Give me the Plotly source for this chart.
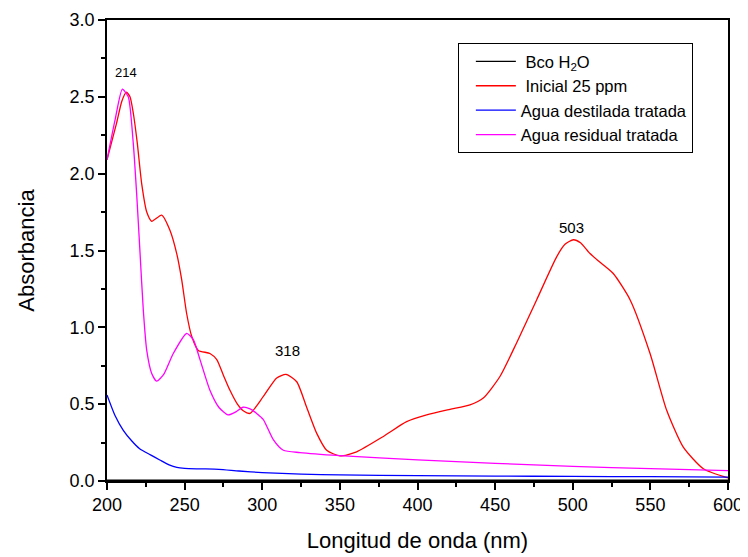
import plotly.graph_objects as go

# Bco H2O (baseline)
wl_blank = [200, 250, 300, 350, 400, 450, 500, 550, 600]
abs_blank = [0.005, 0.005, 0.005, 0.005, 0.005, 0.005, 0.005, 0.005, 0.005]

# Inicial 25 ppm
wl_ini = [200, 206.2, 209.5, 212.5, 214.8, 217, 219.5, 222.4, 225.6, 228.8, 235.2, 240.6,
          244.9, 248.1, 251.3, 254.6, 258.8, 266.3, 270.7, 274.9, 279.2, 284, 288, 292.1,
          300.7, 309.3, 315.3, 322.2, 328.6, 335.1, 341.5, 350.1, 360.8, 378, 393, 405.9,
          420.9, 433.8, 442.4, 453.1, 463.9, 476.8, 489.7, 495, 500.4, 505, 511.1, 518,
          526.1, 536.9, 549.8, 560.5, 571.2, 584.1, 600]
abs_ini = [2.09, 2.33, 2.47, 2.53, 2.50, 2.39, 2.20, 1.93, 1.75, 1.69, 1.73, 1.63,
           1.48, 1.31, 1.09, 0.94, 0.85, 0.83, 0.79, 0.69, 0.59, 0.50, 0.455, 0.44,
           0.55, 0.67, 0.694, 0.646, 0.48, 0.31, 0.20, 0.163, 0.19, 0.29, 0.386, 0.43,
           0.466, 0.495, 0.54, 0.68, 0.90, 1.18, 1.46, 1.54, 1.57, 1.55, 1.48, 1.42,
           1.35, 1.18, 0.83, 0.46, 0.22, 0.08, 0.02]

# Agua destilada tratada
wl_dest = [200, 205, 210.5, 216, 221, 228, 234, 240, 245, 250, 260, 272, 285, 300, 325,
           350, 400, 450, 500, 550, 600]
abs_dest = [0.56, 0.43, 0.33, 0.26, 0.21, 0.17, 0.137, 0.105, 0.088, 0.082, 0.079, 0.076,
            0.065, 0.055, 0.045, 0.04, 0.035, 0.032, 0.03, 0.028, 0.025]

# Agua residual tratada
wl_res = [200, 205.2, 209.9, 213.7, 216.9, 219.1, 221.3, 223.4, 225.6, 228.8, 232, 236.3,
          242.7, 251.3, 255.6, 259.9, 266.3, 272, 278, 283, 287.6, 292.1, 296.4, 300.7,
          307.1, 313.6, 324.3, 350, 400, 450, 500, 550, 600]
abs_res = [2.09, 2.35, 2.55, 2.50, 2.20, 1.87, 1.48, 1.11, 0.85, 0.70, 0.65, 0.69,
           0.83, 0.96, 0.92, 0.79, 0.59, 0.48, 0.43, 0.45, 0.48, 0.47, 0.44, 0.40,
           0.27, 0.20, 0.185, 0.165, 0.137, 0.115, 0.095, 0.08, 0.067]

peak_x = [212, 316.5, 499.5]
peak_y = [2.66, 0.85, 1.65]
peak_text = ["214", "318", "503"]
peak_size = [13, 15, 15]

FONT = "Liberation Sans, Arial, sans-serif"

fig = go.Figure()
series = [
    (" Bco H<sub>2</sub>O", wl_blank, abs_blank, "black"),
    (" Inicial 25 ppm", wl_ini, abs_ini, "#ff0000"),
    ("Agua destilada tratada", wl_dest, abs_dest, "#0000ff"),
    ("Agua residual tratada", wl_res, abs_res, "#ff00ff"),
]
for name, x, y, color in series:
    fig.add_trace(go.Scatter(
        x=x, y=y, name=name, mode="lines",
        line=dict(color=color, width=1.3, shape="spline", smoothing=0.6),
    ))

for x, y, t, s in zip(peak_x, peak_y, peak_text, peak_size):
    fig.add_annotation(x=x, y=y, text=t, showarrow=False,
                       font=dict(size=s, color="black", family=FONT))

axis_style = dict(
    showline=True, linecolor="black", linewidth=1.5, mirror=True,
    ticks="outside", ticklen=7, tickwidth=1.5, tickcolor="black",
    showgrid=False, zeroline=False, automargin=False,
    tickfont=dict(size=18, color="black", family=FONT),
)

fig.update_xaxes(
    range=[200, 600], dtick=50,
    minor=dict(dtick=25, ticks="outside", ticklen=4, tickwidth=1.5, tickcolor="black"),
    title=dict(text="Longitud de onda (nm)", font=dict(size=22, color="black", family=FONT),
               standoff=18),
    **axis_style,
)
fig.update_yaxes(
    range=[0, 3], dtick=0.5, tickformat=".1f",
    minor=dict(dtick=0.25, ticks="outside", ticklen=4, tickwidth=1.5, tickcolor="black"),
    title=dict(text="Absorbancia", font=dict(size=22, color="black", family=FONT),
               standoff=29),
    **axis_style,
)

# page body adds an 8px margin, so the figure is 8px smaller each way
fig.update_layout(
    width=740, height=549,
    margin=dict(l=99, r=20, t=12, b=76),
    paper_bgcolor="white", plot_bgcolor="white",
    font=dict(family=FONT, color="black"),
    showlegend=True,
    legend=dict(
        x=0.565, y=0.95, xanchor="left", yanchor="top",
        bgcolor="white", bordercolor="black", borderwidth=1,
        font=dict(size=16.5, color="black", family=FONT),
        tracegroupgap=0, itemwidth=40, indentation=12,
    ),
)

fig.write_html("out.html")
